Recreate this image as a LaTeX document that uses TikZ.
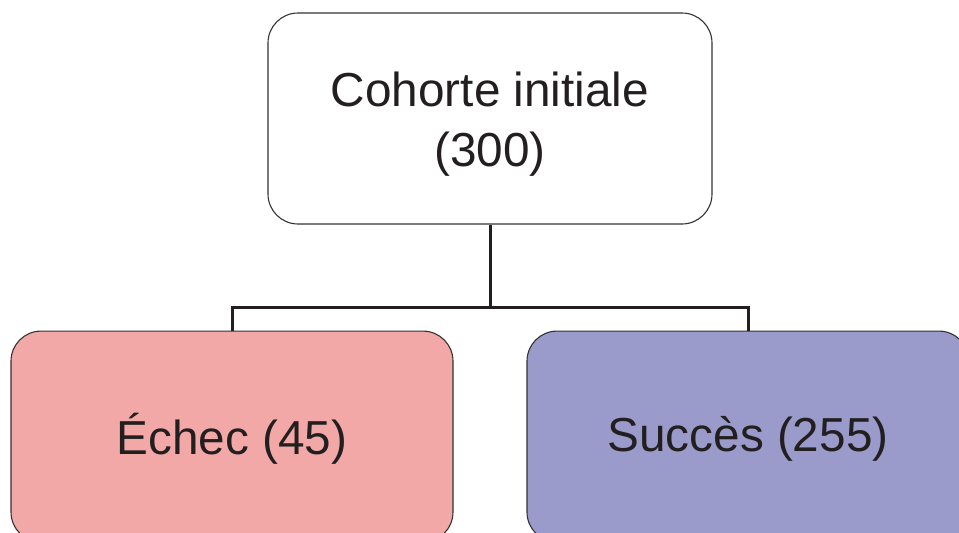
\documentclass[tikz,border=0pt]{standalone}
\usepackage{fontspec}
\setmainfont{Liberation Sans}
\usetikzlibrary{positioning}
\definecolor{EchecPink}{HTML}{F3A8A8}
\definecolor{SuccesViolet}{HTML}{9A9ACB}
\definecolor{LineGray}{HTML}{333333}
\definecolor{TextDark}{HTML}{231F20}
\newcommand{\lowered}[2]{\raisebox{-#1}[\height][\depth]{#2}}
\begin{document}
\begin{tikzpicture}[
    x=1pt, y=1pt,
    box/.style={rectangle, rounded corners=30pt, draw=LineGray, line width=1.1pt, inner sep=0pt, align=center, text=TextDark, font=\fontsize{47.7}{60}\selectfont},
    rootbox/.style={box, fill=white, minimum width=444pt, minimum height=211pt},
    leafbox/.style={box, minimum width=442pt, minimum height=211pt},
    link/.style={draw=TextDark, line width=3pt}
  ]
  \clip (0,0) rectangle (959,-533);
  \fill[white] (0,0) rectangle (959,-533);

  % Top: initial cohort
  \node[rootbox] (cohorte) at (490,-118.5) {\lowered{6pt}{Cohorte initiale}\\\lowered{6pt}{(300)}};

  % Bottom: the two outcomes
  \node[leafbox, fill=EchecPink, below=106pt of cohorte, xshift=-258pt] (echec) {\lowered{2pt}{Échec (45)}};
  \node[leafbox, fill=SuccesViolet, below=106pt of cohorte, xshift=258pt] (succes) {\lowered{2pt}{Succès (255)}};

  % Connectors
  \draw[link] (cohorte.south) -- ++(0,-83) coordinate (split);
  \draw[link] (split) -| (echec.north);
  \draw[link] (split) -| (succes.north);
\end{tikzpicture}
\end{document}
